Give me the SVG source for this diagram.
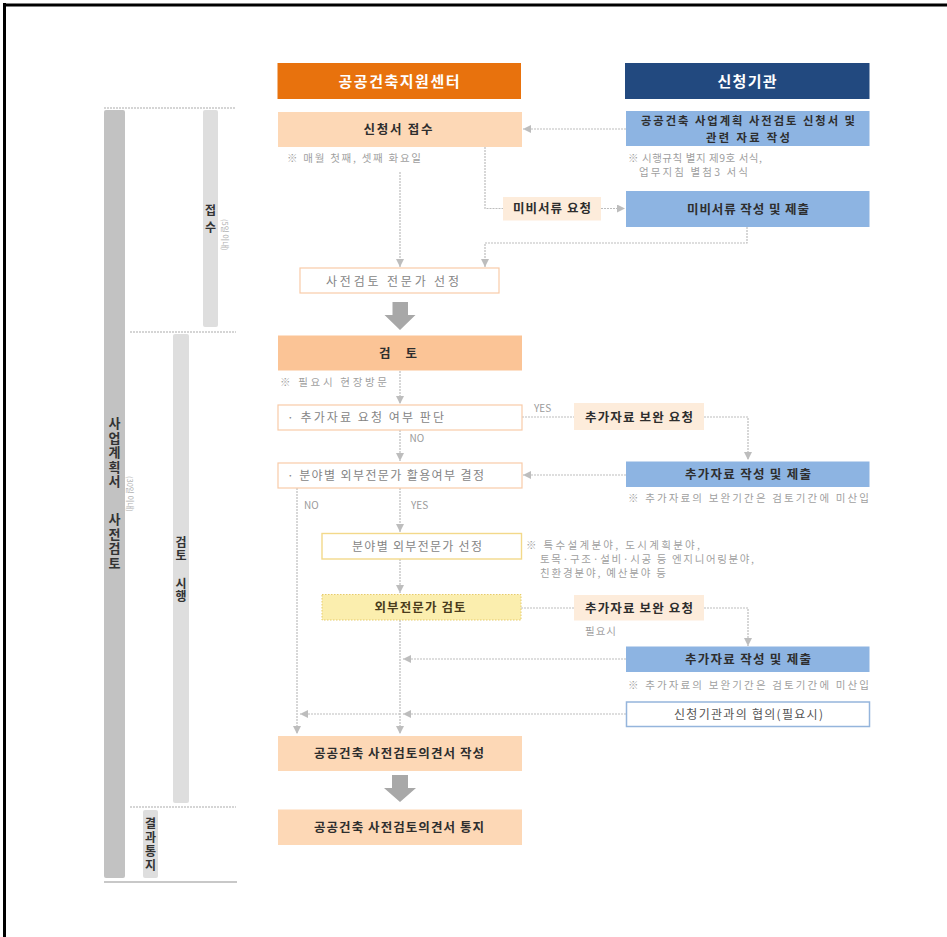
<svg xmlns="http://www.w3.org/2000/svg" width="947" height="937" viewBox="0 0 947 937">
<defs>
<style>
text { font-family: "Noto Sans CJK KR", "Noto Sans", sans-serif; }
.hd { font-size:15px; font-weight:bold; fill:#ffffff; text-anchor:middle; }
.b { font-size:12.5px; font-weight:bold; fill:#2e2e2e; text-anchor:middle; }
.g { font-size:12px; fill:#858585; }
.n { font-size:10.5px; fill:#9f9f9f; }
.lab { font-size:10px; fill:#9a9a9a; }
.vt { font-size:13px; font-weight:bold; fill:#333333; writing-mode:vertical-rl; }
.vs { font-size:12px; font-weight:bold; fill:#333333; writing-mode:vertical-rl; }
.sm { font-size:7.5px; fill:#b0b0b0; }
.c { fill:none; stroke:#bdbdbd; stroke-width:1.2; stroke-dasharray:2 1; }
.ca { marker-end:url(#ah); }
.sep { stroke:#c8c8c8; stroke-width:1.5; stroke-dasharray:2 1; }
.peach { fill:#fdd8b6; }
.blue { fill:#8db4e2; }
.req { fill:#fdecdb; }
.wb { fill:#ffffff; stroke:#f8cba8; stroke-width:1.2; }
.big { fill:#a8a8a8; }
</style>
<marker id="ah" markerWidth="8" markerHeight="8" refX="8" refY="4" orient="auto" markerUnits="userSpaceOnUse"><path d="M0,0 L8,4 L0,8 z" fill="#bdbdbd"/></marker>
</defs>
<rect x="0" y="0" width="947" height="937" fill="#ffffff"/>
<line x1="3" y1="5" x2="947" y2="5" stroke="#000" stroke-width="3"/>
<line x1="4.5" y1="3" x2="4.5" y2="937" stroke="#000" stroke-width="3"/>

<g id="phase-bars">
<line class="sep" x1="104" y1="108" x2="236" y2="108"/>
<rect x="104" y="110" width="21" height="768" rx="2" fill="#c2c2c2"/>
<text class="vt" x="114.5" y="417" style="letter-spacing:1.5px">사업계획서</text>
<text class="vt" x="114.5" y="513" style="letter-spacing:1.5px">사전검토</text>
<text class="sm" transform="translate(127,476) rotate(90)">(30일 이내)</text>
<rect x="203" y="110" width="15" height="217" rx="2" fill="#dedede"/>
<text class="vs" x="210.5" y="204" style="letter-spacing:5px">접수</text>
<text class="sm" transform="translate(222,219) rotate(90)">(5일 이내)</text>
<line class="sep" x1="130" y1="332" x2="236" y2="332"/>
<rect x="173" y="334" width="16" height="469" rx="2" fill="#dedede"/>
<text class="vs" x="181" y="536" style="letter-spacing:1px">검토</text>
<text class="vs" x="181" y="577" style="letter-spacing:1px">시행</text>
<line class="sep" x1="130" y1="807" x2="236" y2="807"/>
<rect x="143" y="810" width="15" height="68" rx="2" fill="#dedede"/>
<text class="vs" x="150.5" y="817" style="letter-spacing:2px">결과통지</text>
<line x1="104" y1="882" x2="237" y2="882" stroke="#c8c8c8" stroke-width="2"/>
</g>

<g id="connectors">
<line class="c ca" x1="626" y1="129" x2="523" y2="129"/>
<polyline class="c" points="485,147 485,208.5 503,208.5"/>
<line class="c ca" x1="601" y1="208.5" x2="625" y2="208.5"/>
<polyline class="c ca" points="747,227 747,243 485,243 485,267"/>
<line class="c ca" x1="400" y1="172" x2="400" y2="267"/>
<line class="c ca" x1="400" y1="371" x2="400" y2="404"/>
<line class="c" x1="522" y1="417" x2="574" y2="417"/>
<polyline class="c ca" points="704,417 748,417 748,460"/>
<line class="c ca" x1="400" y1="430" x2="400" y2="461"/>
<line class="c ca" x1="626" y1="475" x2="523" y2="475"/>
<line class="c ca" x1="297" y1="488" x2="297" y2="734"/>
<line class="c ca" x1="400" y1="488" x2="400" y2="532"/>
<line class="c ca" x1="400" y1="559" x2="400" y2="593"/>
<line class="c" x1="521" y1="608" x2="574" y2="608"/>
<polyline class="c ca" points="704,608 748,608 748,646"/>
<line class="c ca" x1="626" y1="659" x2="403" y2="659"/>
<line class="c ca" x1="400" y1="620" x2="400" y2="734"/>
<line class="c ca" x1="626" y1="714" x2="403" y2="714"/>
<line class="c ca" x1="400" y1="714" x2="300" y2="714"/>
<polygon class="big" points="392.5,302 408,302 408,315 415.5,315 400,330 384.5,315 392.5,315"/>
<polygon class="big" points="392,775 408,775 408,788 416,788 400,802 384,788 392,788"/>
<text class="lab" x="534" y="411.5">YES</text>
<text class="lab" x="409.5" y="442">NO</text>
<text class="lab" x="304" y="508.5">NO</text>
<text class="lab" x="411" y="508.5">YES</text>
<text class="n" x="585" y="635" textLength="31">필요시</text>
</g>

<g id="header-center">
<rect x="277.5" y="63" width="243.5" height="36" fill="#e8720d"/>
<text class="hd" x="399" y="86.5" textLength="121">공공건축지원센터</text>
</g>
<g id="header-applicant">
<rect x="625" y="63" width="244.5" height="36" fill="#22497f"/>
<text class="hd" x="747" y="86.5" textLength="59">신청기관</text>
</g>

<g id="receipt">
<rect class="peach" x="278" y="112" width="244" height="35"/>
<text class="b" x="398" y="133.5" textLength="69">신청서 접수</text>
<text class="n" x="287" y="162" textLength="134">※ 매월 첫째, 셋째 화요일</text>
</g>
<g id="application">
<rect class="blue" x="626" y="111" width="243.5" height="35"/>
<text class="b" x="748" y="125" textLength="214" style="font-size:11.3px">공공건축 사업계획 사전검토 신청서 및</text>
<text class="b" x="748" y="141.6" textLength="84" style="font-size:11.3px">관련 자료 작성</text>
<text class="n" x="628" y="162" textLength="134">※ 시행규칙 별지 제9호 서식,</text>
<text class="n" x="639" y="176" textLength="109">업무지침 별첨3 서식</text>
</g>
<g id="missing-request">
<rect class="req" x="503" y="197" width="98" height="23.5"/>
<text class="b" x="552" y="213" textLength="78">미비서류 요청</text>
</g>
<g id="missing-submit">
<rect class="blue" x="626" y="191" width="243.5" height="36"/>
<text class="b" x="748" y="213.5" textLength="122">미비서류 작성 및 제출</text>
</g>
<g id="expert-select">
<rect class="wb" x="300" y="268" width="199" height="25"/>
<text class="g" x="326" y="285.5" textLength="133">사전검토 전문가 선정</text>
</g>
<g id="review">
<rect x="278" y="335.5" width="244" height="35" fill="#fbc496"/>
<text class="b" x="398" y="357.5" textLength="38">검 토</text>
<text class="n" x="280" y="385.5" textLength="107">※ 필요시 현장방문</text>
</g>
<g id="decide-additional">
<rect class="wb" x="278" y="405" width="244" height="25"/>
<text class="g" x="287" y="421.5" textLength="157">· 추가자료 요청 여부 판단</text>
</g>
<g id="additional-request-1">
<rect class="req" x="574" y="403" width="130" height="27"/>
<text class="b" x="639" y="421.5" textLength="108">추가자료 보완 요청</text>
</g>
<g id="additional-submit-1">
<rect class="blue" x="626" y="461.5" width="243.5" height="25.5"/>
<text class="b" x="748" y="479" textLength="126">추가자료 작성 및 제출</text>
<text class="n" x="628" y="501.5" textLength="241">※ 추가자료의 보완기간은 검토기간에 미산입</text>
</g>
<g id="decide-external">
<rect class="wb" x="278" y="463" width="244" height="25"/>
<text class="g" x="287" y="480" textLength="197">· 분야별 외부전문가 활용여부 결정</text>
</g>
<g id="external-select">
<rect x="322" y="533.5" width="199.5" height="25.5" fill="#ffffff" stroke="#f3d98a" stroke-width="1.4"/>
<text class="g" x="352" y="551" textLength="130">분야별 외부전문가 선정</text>
<text class="n" x="526" y="549" textLength="174">※ 특수설계분야, 도시계획분야,</text>
<text class="n" x="540" y="562.5" textLength="214">토목·구조·설비·시공 등 엔지니어링분야,</text>
<text class="n" x="540" y="577" textLength="126">친환경분야, 예산분야 등</text>
</g>
<g id="external-review">
<rect x="322" y="594.5" width="199" height="25.5" fill="#fbeeae" stroke="#e6cb6a" stroke-width="1" stroke-dasharray="1.5 1.5"/>
<text class="b" x="420" y="612" textLength="91" style="fill:#4a3c1c">외부전문가 검토</text>
</g>
<g id="additional-request-2">
<rect class="req" x="574" y="595" width="130" height="25.5"/>
<text class="b" x="639" y="612.5" textLength="108">추가자료 보완 요청</text>
</g>
<g id="additional-submit-2">
<rect class="blue" x="626" y="646.5" width="243.5" height="25.5"/>
<text class="b" x="748" y="664" textLength="126">추가자료 작성 및 제출</text>
<text class="n" x="628" y="688.5" textLength="241">※ 추가자료의 보완기간은 검토기간에 미산입</text>
</g>
<g id="consultation">
<rect x="626.5" y="702" width="243" height="24.5" fill="#ffffff" stroke="#95b5dc" stroke-width="1.5"/>
<text class="g" x="674" y="719" textLength="149" style="fill:#555555">신청기관과의 협의(필요시)</text>
</g>
<g id="opinion-write">
<rect class="peach" x="278" y="736" width="244" height="35"/>
<text class="b" x="399" y="758" textLength="170">공공건축 사전검토의견서 작성</text>
</g>
<g id="opinion-notify">
<rect class="peach" x="278" y="809.5" width="244" height="35.5"/>
<text class="b" x="399" y="832" textLength="170">공공건축 사전검토의견서 통지</text>
</g>
</svg>
